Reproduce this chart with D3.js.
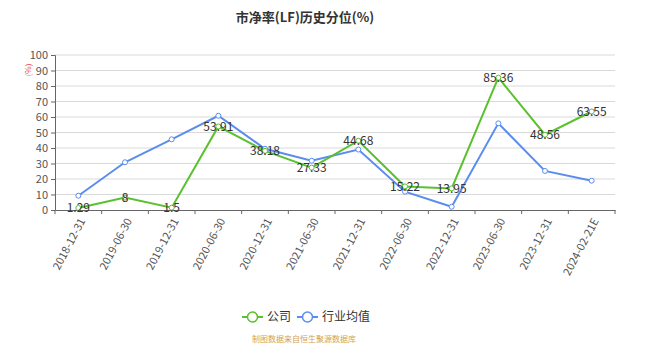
<!DOCTYPE html>
<html>
<head>
<meta charset="utf-8">
<script src="https://cdn.jsdelivr.net/npm/d3@7"></script>
<style>
  body { margin: 0; background: #fff; }
  text { font-family: "Noto Sans CJK SC", "Noto Sans", sans-serif; }
</style>
</head>
<body>
<div id="chart"></div>
<script>
const categories = ["2018-12-31", "2019-06-30", "2019-12-31", "2020-06-30", "2020-12-31", "2021-06-30",
    "2021-12-31", "2022-06-30", "2022-12-31", "2023-06-30", "2023-12-31", "2024-02-21E"];
const company = [1.29, 8, 1.5, 53.91, 38.18, 27.33, 44.68, 15.22, 13.95, 85.36, 48.56, 63.55];
const industry = [9.2, 30.8, 45.6, 60.8, 39.5, 31.8, 39, 11.8, 2.1, 55.9, 25.2, 18.9];
const yTicks = [0, 10, 20, 30, 40, 50, 60, 70, 80, 90, 100];

let conf = {
    width: 663,
    height: 357,
    top: 55,
    left: 55,
    bottom: 147,
    right: 48
};
const green = "#5ac12e";
const blue = "#5b8def";

const svg = d3.select("#chart")
    .append("svg")
    .attr("width", conf.width)
    .attr("height", conf.height);

const w = conf.width - conf.left - conf.right;
const h = conf.height - conf.top - conf.bottom;

const g = svg.append("g")
    .attr("transform", `translate(${conf.left},${conf.top})`);

// title
svg.append("text")
    .attr("x", 305)
    .attr("y", 22)
    .attr("text-anchor", "middle")
    .attr("font-size", 13)
    .attr("font-weight", "bold")
    .attr("fill", "#333")
    .text("市净率(LF)历史分位(%)");

let x = d3.scaleBand()
    .domain(categories)
    .range([0, w]);

let y = d3.scaleLinear()
    .domain([0, 100])
    .range([h, 0]);

// grid lines
g.selectAll(".grid")
    .data(yTicks.filter(d => d > 0))
    .enter().append("line")
    .attr("x1", 0)
    .attr("x2", w)
    .attr("y1", d => y(d))
    .attr("y2", d => y(d))
    .attr("stroke", "#d9d9d9")
    .attr("stroke-width", 1);

// Y axis
let yAxis = g.append("g")
    .call(d3.axisLeft(y).tickValues(yTicks).tickSize(4).tickPadding(3));
yAxis.select(".domain").attr("stroke", "#666");
yAxis.selectAll(".tick line").attr("stroke", "#666");
yAxis.selectAll(".tick text").attr("fill", "#555").attr("font-size", 11);

svg.append("text")
    .attr("transform", "translate(31,70) rotate(-90)")
    .attr("text-anchor", "middle")
    .attr("font-size", 8)
    .attr("fill", "#e8454f")
    .text("(%)");

// X axis
let xAxis = g.append("g")
    .attr("transform", `translate(0,${h})`)
    .call(d3.axisBottom(x).tickSize(0).tickFormat(""));
xAxis.select(".domain").attr("stroke", "#666");

const edges = categories.map(c => x(c)).concat([w]);
xAxis.selectAll(".edge")
    .data(edges)
    .enter().append("line")
    .attr("x1", d => d).attr("x2", d => d)
    .attr("y1", 0).attr("y2", 4)
    .attr("stroke", "#666");

xAxis.selectAll(".lbl")
    .data(categories)
    .enter().append("text")
    .attr("transform", d => `translate(${x(d) + x.bandwidth() / 2 + 4},${9}) rotate(-62)`)
    .attr("text-anchor", "end")
    .attr("dy", "0.35em")
    .attr("font-size", 11)
    .attr("fill", "#555")
    .text(d => d);

const cx = d => x(d) + x.bandwidth() / 2;

function drawSeries(values, color) {
    const line = d3.line()
        .x((d, i) => cx(categories[i]))
        .y(d => y(d));
    g.append("path")
        .datum(values)
        .attr("fill", "none")
        .attr("stroke", color)
        .attr("stroke-width", 2)
        .attr("d", line);
    g.selectAll(null)
        .data(values)
        .enter().append("circle")
        .attr("cx", (d, i) => cx(categories[i]))
        .attr("cy", d => y(d))
        .attr("r", 2.5)
        .attr("fill", "#fff")
        .attr("stroke", color)
        .attr("stroke-width", 1);
}

drawSeries(industry, blue);
drawSeries(company, green);

// labels of company values
g.selectAll(".vlabel")
    .data(company)
    .enter().append("text")
    .attr("x", (d, i) => cx(categories[i]))
    .attr("y", d => y(d))
    .attr("dy", "0.35em")
    .attr("text-anchor", "middle")
    .attr("font-size", 12)
    .attr("fill", "#333")
    .text(d => d);

// legend
const legend = [
    { name: "公司", color: green, x: 242 },
    { name: "行业均值", color: blue, x: 297 }
];
const lg = svg.append("g");
legend.forEach(d => {
    lg.append("line")
        .attr("x1", d.x).attr("x2", d.x + 21)
        .attr("y1", 317).attr("y2", 317)
        .attr("stroke", d.color).attr("stroke-width", 2);
    lg.append("circle")
        .attr("cx", d.x + 10.5).attr("cy", 317).attr("r", 5)
        .attr("fill", "#fff").attr("stroke", d.color).attr("stroke-width", 1.5);
    lg.append("text")
        .attr("x", d.x + 25).attr("y", 317)
        .attr("dy", "0.35em")
        .attr("font-size", 12)
        .attr("fill", "#333")
        .text(d.name);
});

svg.append("text")
    .attr("x", 252)
    .attr("y", 339)
    .attr("dy", "0.35em")
    .attr("font-size", 8)
    .attr("fill", "#d4a24c")
    .text("制图数据来自恒生聚源数据库");
</script>
</body>
</html>
